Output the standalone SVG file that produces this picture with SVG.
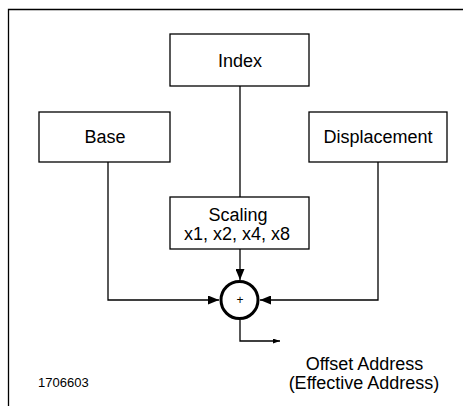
<svg xmlns="http://www.w3.org/2000/svg" width="463" height="406" viewBox="0 0 463 406">
<style>
.box{fill:#fff;stroke:#000;stroke-width:1.3}
.ln{fill:none;stroke:#000;stroke-width:1.3}
.t{font-family:"Liberation Sans",Arial,sans-serif;font-size:18px;text-anchor:middle;fill:#000}
</style>
<defs>
<marker id="ah" markerWidth="11" markerHeight="9" refX="11" refY="4.5" orient="auto" markerUnits="userSpaceOnUse">
<path d="M0,0 L11,4.5 L0,9 Z" fill="#000"/>
</marker>
<marker id="as" markerWidth="7" markerHeight="5" refX="7" refY="2.5" orient="auto" markerUnits="userSpaceOnUse">
<path d="M0,0 L7,2.5 L0,5 Z" fill="#000"/>
</marker>
</defs>
<rect width="463" height="406" fill="#fff"/>
<path class="ln" d="M8.5,406 V9.5 H463"/>
<g id="connectors">
<line class="ln" x1="240" y1="86" x2="240" y2="197"/>
<line class="ln" x1="240" y1="249" x2="240" y2="280" marker-end="url(#ah)"/>
<path class="ln" d="M108,162 V300 H219" marker-end="url(#ah)"/>
<path class="ln" d="M378,162 V300 H260" marker-end="url(#ah)"/>
<path class="ln" d="M240,320 V341 H280" marker-end="url(#as)"/>
</g>
<g id="index"><rect class="box" x="170" y="34" width="139" height="52"/><text class="t" x="240" y="67">Index</text></g>
<g id="base"><rect class="box" x="39" y="112" width="131" height="50"/><text class="t" x="105" y="143">Base</text></g>
<g id="displacement"><rect class="box" x="309" y="112" width="138" height="50"/><text class="t" x="378" y="143">Displacement</text></g>
<g id="scaling"><rect class="box" x="170" y="197" width="139" height="52"/><text class="t" x="238" y="221">Scaling</text><text class="t" x="237" y="239.5">x1, x2, x4, x8</text></g>
<g id="adder"><circle cx="239.5" cy="300" r="18.5" fill="#fff" stroke="#000" stroke-width="3"/><text class="t" x="240" y="304" style="font-size:12px">+</text></g>
<g id="output"><text class="t" x="364.5" y="370">Offset Address</text><text class="t" x="364" y="388.5">(Effective Address)</text></g>
<text x="38" y="387" style="font-family:'Liberation Sans',Arial,sans-serif;font-size:13px">1706603</text>
</svg>
